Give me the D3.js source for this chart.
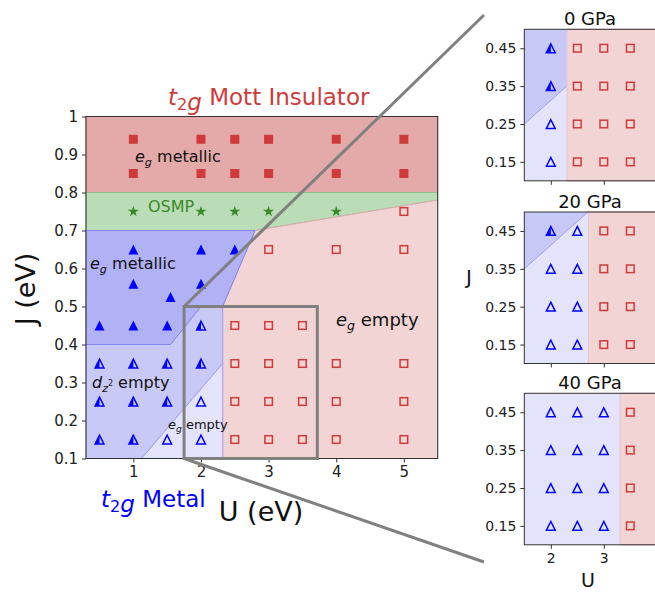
<!DOCTYPE html>
<html>
<head>
<meta charset="utf-8">
<script src="https://cdn.jsdelivr.net/npm/d3@7"></script>
<style>
  body { margin: 0; background: #fff; }
  svg text { font-family: "DejaVu Sans", sans-serif; }
</style>
</head>
<body>
<div id="chart"></div>
<script>
// ---- data (U, J in eV) ----
var mottSquares = [[1,0.94],[2,0.94],[2.5,0.94],[3,0.94],[4,0.94],[5,0.94],
                   [1,0.85],[2,0.85],[2.5,0.85],[3,0.85],[4,0.85],[5,0.85]];
var osmpStars = [[1,0.75],[2,0.75],[2.5,0.75],[3,0.75],[4,0.75]];
var egMetalTri = [[1,0.65],[2,0.65],[2.5,0.65],[1,0.56],[2,0.56],[1.55,0.525],
                  [0.5,0.45],[1,0.45],[1.5,0.45]];
var dz2EmptyTri = [[2,0.45],[0.5,0.35],[1,0.35],[1.5,0.35],[2,0.35],
                   [0.5,0.25],[1,0.25],[1.5,0.25],[0.5,0.15],[1,0.15]];
var egEmptyTri = [[2,0.25],[1.5,0.15],[2,0.15]];
var egEmptySquares = [[3,0.65],[4,0.65],[5,0.65],[5,0.75],
                      [2.5,0.45],[3,0.45],[3.5,0.45],
                      [2.5,0.35],[3,0.35],[3.5,0.35],[4,0.35],[5,0.35],
                      [2.5,0.25],[3,0.25],[3.5,0.25],[4,0.25],[5,0.25],
                      [2.5,0.15],[3,0.15],[3.5,0.15],[4,0.15],[5,0.15]];

// phase regions
var regionMott = [[0.3,0.8],[5.5,0.8],[5.5,1.0],[0.3,1.0]];
var regionOsmp = [[0.3,0.7],[2.8,0.7],[5.5,0.78],[5.5,0.8],[0.3,0.8]];
var regionEgMetal = [[0.3,0.7],[2.8,0.7],[2.32,0.5],[2.0,0.5],[1.55,0.4],[0.3,0.4]];
var regionDz2 = [[0.3,0.4],[1.55,0.4],[2.0,0.5],[2.32,0.5],[2.32,0.35],[1.12,0.1],[0.3,0.1]];
var regionEgEmptyMetal = [[1.12,0.1],[2.32,0.35],[2.32,0.1]];
var regionEgEmptyIns = [[2.32,0.1],[2.32,0.5],[2.8,0.7],[5.5,0.78],[5.5,0.1]];

var xTicks = [1,2,3,4,5];
var yTicks = [0.1,0.2,0.3,0.4,0.5,0.6,0.7,0.8,0.9,1];

// pressure panels
var panelTitles = ["0 GPa","20 GPa","40 GPa"];
var panelBoundaryU = [2.3, 2.7, 3.3];
var panelDiag = [[[1.5,0.25],[2.3,0.35]], [[1.5,0.35],[2.7,0.5]], null];
var panelHalfTri = [[[2,0.45],[2,0.35]], [[2,0.45]], []];
var panelOpenTri = [
  [[2,0.25],[2,0.15]],
  [[2.5,0.45],[2,0.35],[2.5,0.35],[2,0.25],[2.5,0.25],[2,0.15],[2.5,0.15]],
  [[2,0.45],[2.5,0.45],[3,0.45],[2,0.35],[2.5,0.35],[3,0.35],
   [2,0.25],[2.5,0.25],[3,0.25],[2,0.15],[2.5,0.15],[3,0.15]]
];
var panelSquaresU = [[2.5,3,3.5],[3,3.5],[3.5]];
var panelJ = [0.45,0.35,0.25,0.15];
var panelXTicks = [2,3];

// ---- colours ----
var RED = "#cf3b3b", BLUE = "#0000ff", GREEN = "#3a8a2a", GREY = "#808080";

var svg = d3.select("#chart").append("svg")
  .attr("width", 655).attr("height", 593);

var x = d3.scaleLinear().domain([0.3,5.5]).range([86,437.7]);
var y = d3.scaleLinear().domain([0.1,1]).range([458.5,116.5]);

function poly(sx, sy) {
  return function(pts) {
    return "M" + pts.map(function(p){ return sx(p[0]) + "," + sy(p[1]); }).join("L") + "Z";
  };
}

function drawRegion(g, pts, fill, stroke, sx, sy) {
  g.append("path").attr("d", poly(sx, sy)(pts))
    .attr("fill", fill).attr("stroke", stroke).attr("stroke-width", 1);
}

// triangle paths
function triPath(cx, cy, r) {
  return "M" + cx + "," + (cy - r) + "L" + (cx - r) + "," + (cy + r) + "L" + (cx + r) + "," + (cy + r) + "Z";
}
function halfTriPath(cx, cy, r) {
  return "M" + cx + "," + (cy - r) + "L" + (cx - r) + "," + (cy + r) + "L" + cx + "," + (cy + r) + "Z";
}

function drawMarkers(g, sx, sy, opts) {
  var s = opts.scale || 1;
  if (opts.filledSq) g.selectAll(null).data(opts.filledSq).enter().append("rect")
    .attr("x", function(d){ return sx(d[0]) - 4.5*s; })
    .attr("y", function(d){ return sy(d[1]) - 4.5*s; })
    .attr("width", 9*s).attr("height", 9*s).attr("fill", RED);
  if (opts.openSq) g.selectAll(null).data(opts.openSq).enter().append("rect")
    .attr("x", function(d){ return sx(d[0]) - 3.8*s; })
    .attr("y", function(d){ return sy(d[1]) - 3.8*s; })
    .attr("width", 7.6*s).attr("height", 7.6*s)
    .attr("fill", "none").attr("stroke", RED).attr("stroke-width", 1.5);
  if (opts.stars) g.selectAll(null).data(opts.stars).enter().append("path")
    .attr("transform", function(d){ return "translate(" + sx(d[0]) + "," + sy(d[1]) + ")"; })
    .attr("d", d3.symbol().type(d3.symbolStar).size(38))
    .attr("fill", GREEN);
  if (opts.filledTri) g.selectAll(null).data(opts.filledTri).enter().append("path")
    .attr("d", function(d){ return triPath(sx(d[0]), sy(d[1]), 5*s); })
    .attr("fill", BLUE);
  if (opts.halfTri) {
    g.selectAll(null).data(opts.halfTri).enter().append("path")
      .attr("d", function(d){ return halfTriPath(sx(d[0]), sy(d[1]), 4.4*s); })
      .attr("fill", BLUE);
    g.selectAll(null).data(opts.halfTri).enter().append("path")
      .attr("d", function(d){ return triPath(sx(d[0]), sy(d[1]), 4.4*s); })
      .attr("fill", "none").attr("stroke", BLUE).attr("stroke-width", 1.5);
  }
  if (opts.openTri) g.selectAll(null).data(opts.openTri).enter().append("path")
    .attr("d", function(d){ return triPath(sx(d[0]), sy(d[1]), 4.4*s); })
    .attr("fill", "none").attr("stroke", BLUE).attr("stroke-width", 1.5);
}

// ---- main phase diagram ----
var main = svg.append("g");
drawRegion(main, regionMott, "#e4a9a9", "#d98e8e", x, y);
drawRegion(main, regionOsmp, "#badcb6", "#8fc08a", x, y);
drawRegion(main, regionEgEmptyIns, "#f2d4d4", "#dcaaaa", x, y);
drawRegion(main, regionDz2, "#c9c9f7", "#a0a0f2", x, y);
drawRegion(main, regionEgMetal, "#b1b1f6", "#8585ee", x, y);
drawRegion(main, regionEgEmptyMetal, "#e3e3fb", "#a0a0f2", x, y);

drawMarkers(main, x, y, {
  filledSq: mottSquares, openSq: egEmptySquares, stars: osmpStars,
  filledTri: egMetalTri, halfTri: dz2EmptyTri, openTri: egEmptyTri
});

main.append("rect").attr("x", 86).attr("y", 116.5)
  .attr("width", 437.7 - 86).attr("height", 458.5 - 116.5)
  .attr("fill", "none").attr("stroke", "#333").attr("stroke-width", 1);

var xAxis = main.append("g").attr("transform", "translate(0,458.5)")
  .call(d3.axisBottom(x).tickValues(xTicks).tickSize(4).tickPadding(4).tickFormat(d3.format("d")));
var yAxis = main.append("g").attr("transform", "translate(86,0)")
  .call(d3.axisLeft(y).tickValues(yTicks).tickSize(4).tickPadding(4)
    .tickFormat(function(d){ return d === 1 ? "1" : d.toFixed(1); }));
[xAxis, yAxis].forEach(function(a){
  a.select(".domain").remove();
  a.selectAll("line").attr("stroke", "#333");
  a.selectAll("text").attr("font-size", 15).attr("fill", "#222")
    .attr("font-family", "DejaVu Sans");
});

// labels with math-style subscripts
function mathLabel(g, px, py, size, color, parts, anchor) {
  var t = g.append("text").attr("x", px).attr("y", py)
    .attr("font-size", size).attr("fill", color).attr("text-anchor", anchor || "start");
  parts.forEach(function(p) {
    var ts = t.append("tspan").text(p.t);
    if (p.i) ts.attr("font-style", "italic");
    if (p.sub) ts.attr("font-size", size * 0.7).attr("dy", size * 0.22);
    if (p.dy) ts.attr("dy", p.dy);
  });
  return t;
}

mathLabel(svg, 168, 105, 23, RED, [{t:"t", i:1}, {t:"2", sub:1}, {t:"g", i:1}, {t:" Mott Insulator", dy:-23*0.22}]);
mathLabel(svg, 101, 507, 23, BLUE, [{t:"t", i:1}, {t:"2", sub:1}, {t:"g", i:1}, {t:" Metal", dy:-23*0.22}]);
mathLabel(svg, 135, 162, 16, "#111", [{t:"e", i:1}, {t:"g", i:1, sub:1}, {t:" metallic", dy:-16*0.22}]);
svg.append("text").attr("x", 148).attr("y", 212).attr("font-size", 16).attr("fill", GREEN).text("OSMP");
mathLabel(svg, 90, 269, 16, "#111", [{t:"e", i:1}, {t:"g", i:1, sub:1}, {t:" metallic", dy:-16*0.22}]);
var dz = svg.append("text").attr("x", 92).attr("y", 388).attr("font-size", 16).attr("fill", "#111");
dz.append("tspan").text("d").attr("font-style", "italic");
dz.append("tspan").text("z").attr("font-style", "italic").attr("font-size", 11).attr("dy", 3.5);
dz.append("tspan").text("2").attr("font-size", 8).attr("dy", -6);
dz.append("tspan").text(" empty").attr("dy", 2.5);
mathLabel(svg, 168, 429, 13, "#111", [{t:"e", i:1}, {t:"g", i:1, sub:1}, {t:" empty", dy:-13*0.22}]);
mathLabel(svg, 336, 326, 18, "#111", [{t:"e", i:1}, {t:"g", i:1, sub:1}, {t:" empty", dy:-18*0.22}]);

svg.append("text").attr("x", 261).attr("y", 521).attr("font-size", 27)
  .attr("text-anchor", "middle").attr("fill", "#111").text("U (eV)");
svg.append("text").attr("transform", "translate(35,289) rotate(-90)")
  .attr("font-size", 27).attr("text-anchor", "middle").attr("fill", "#111").text("J (eV)");

// ---- pressure panels ----
var panelTops = [29.3, 212, 393.3];
var px = d3.scaleLinear().domain([1.5,4]).range([524.3,656.8]);
panelTitles.forEach(function(title, i) {
  var top = panelTops[i], bot = top + 151.5;
  var py = d3.scaleLinear().domain([0.1,0.5]).range([bot, top]);
  var g = svg.append("g");
  var bU = panelBoundaryU[i];
  drawRegion(g, [[bU,0.1],[bU,0.5],[4,0.5],[4,0.1]], "#f2d4d4", "#d9a9b8", px, py);
  drawRegion(g, [[1.5,0.1],[bU,0.1],[bU,0.5],[1.5,0.5]], "#e3e3fb", "none", px, py);
  if (panelDiag[i]) {
    var d0 = panelDiag[i][0], d1 = panelDiag[i][1];
    var upper = d1[1] >= 0.5
      ? [[1.5,d0[1]],[d1[0],0.5],[1.5,0.5]]
      : [[1.5,d0[1]],[d1[0],d1[1]],[d1[0],0.5],[1.5,0.5]];
    drawRegion(g, upper, "#c8c8f7", "none", px, py);
    g.append("path").attr("d", "M" + px(d0[0]) + "," + py(d0[1]) + "L" + px(d1[0]) + "," + py(d1[1]))
      .attr("stroke", "#a0a0f2").attr("stroke-width", 1);
  }
  var sq = [];
  panelSquaresU[i].forEach(function(u){ panelJ.forEach(function(j){ sq.push([u,j]); }); });
  drawMarkers(g, px, py, { openSq: sq, halfTri: panelHalfTri[i], openTri: panelOpenTri[i], scale: 1 });

  g.append("rect").attr("x", 524.3).attr("y", top).attr("width", 140).attr("height", bot - top)
    .attr("fill", "none").attr("stroke", "#333").attr("stroke-width", 1);

  var ya = g.append("g").attr("transform", "translate(524.3,0)")
    .call(d3.axisLeft(py).tickValues(panelJ).tickSize(4).tickPadding(4).tickFormat(d3.format(".2f")));
  var xa = g.append("g").attr("transform", "translate(0," + bot + ")")
    .call(d3.axisBottom(px).tickValues(panelXTicks).tickSize(4).tickPadding(4)
      .tickFormat(i === 2 ? d3.format("d") : function(){ return ""; }));
  [ya, xa].forEach(function(a){
    a.select(".domain").remove();
    a.selectAll("line").attr("stroke", "#333");
    a.selectAll("text").attr("font-size", 14).attr("fill", "#222").attr("font-family", "DejaVu Sans");
  });

  g.append("text").attr("x", 590).attr("y", top - 4.5).attr("font-size", 18)
    .attr("text-anchor", "middle").attr("fill", "#111").text(title);
});
svg.append("text").attr("x", 588).attr("y", 587).attr("font-size", 19)
  .attr("text-anchor", "middle").attr("fill", "#111").text("U");
svg.append("text").attr("x", 469).attr("y", 284).attr("font-size", 20)
  .attr("text-anchor", "middle").attr("fill", "#111").text("J");

// ---- zoom box and connectors ----
var bx0 = x(1.75), bx1 = x(3.72), by0 = y(0.5), by1 = y(0.1);
var zoomG = svg.append("g").attr("stroke", GREY).attr("stroke-width", 3).attr("fill", "none");
zoomG.append("rect").attr("x", bx0).attr("y", by0).attr("width", bx1 - bx0).attr("height", by1 - by0);
zoomG.append("line").attr("x1", bx0).attr("y1", by0).attr("x2", 484).attr("y2", 15);
zoomG.append("line").attr("x1", bx0).attr("y1", by1).attr("x2", 484).attr("y2", 562);
</script>
</body>
</html>
